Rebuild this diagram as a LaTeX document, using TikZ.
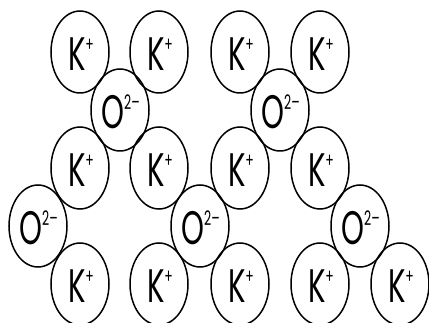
\documentclass[tikz,border=0pt]{standalone}
\usepackage{fontspec}
\setmainfont{Poppins}
\usepackage{graphicx}
\usetikzlibrary{shapes.geometric}
\newcommand{\ionlbl}[2]{\scalebox{0.62}[1]{\fontsize{47}{47}\selectfont #1\raisebox{0.4em}{\fontsize{20}{20}\selectfont #2}}}
\begin{document}
\begin{tikzpicture}[x=1pt,y=-1pt,
  ion/.style={draw=black,line width=1.5pt,ellipse,inner sep=0pt,
              minimum width=58pt,minimum height=82pt}]
\useasboundingbox (0,0) rectangle (429,323);
% K+ ions
\foreach \n/\x/\y in {k1/80/52,k2/159/52,k3/240/52,k4/320/52,
                      k5/80/168,k6/159/168,k7/240/168,k8/320/168,
                      k9/80/284,k10/159/284,k11/240/284,k12/320/284,k13/400/284}{
  \node[ion] (\n) at (\x,\y) {};
  \node (\n t) at (\x+1,\y+2) {\ionlbl{K}{+}};
}
% O2- ions
\foreach \n/\x/\y in {o1/120/110,o2/280/110,o3/38/226,o4/200/226,o5/360/226}{
  \node[ion] (\n) at (\x,\y) {};
  \node (\n t) at (\x+0.5,\y+2) {\ionlbl{O}{2–}};
}
\end{tikzpicture}
\end{document}
